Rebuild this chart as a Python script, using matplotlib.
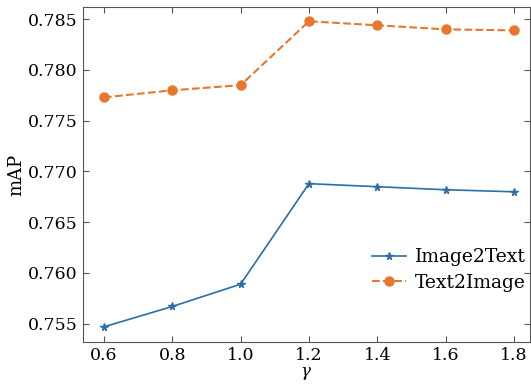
import matplotlib.pyplot as plt

gamma = [0.6, 0.8, 1.0, 1.2, 1.4, 1.6, 1.8]
image2text = [0.7547, 0.7567, 0.7589, 0.7688, 0.7685, 0.7682, 0.7680]
text2image = [0.7773, 0.7780, 0.7785, 0.7848, 0.7844, 0.7840, 0.7839]

plt.rcParams['font.family'] = 'DejaVu Serif'
plt.rcParams['mathtext.fontset'] = 'dejavuserif'

fig = plt.figure(figsize=(5.31, 3.9), dpi=100)
ax = fig.add_axes([0.156, 0.123, 0.842, 0.859])

ax.plot(gamma, image2text, color='#2a6fa8', marker='*', markersize=5.5, linewidth=1.2, label='Image2Text')
ax.plot(gamma, text2image, color='#e8772e', marker='o', markersize=6.5, linestyle='--', linewidth=1.5, label='Text2Image')

ax.set_xlim(0.538, 1.847)
ax.set_ylim(0.7532, 0.7862)
ax.set_xticks(gamma)
ax.set_yticks([0.755, 0.760, 0.765, 0.770, 0.775, 0.780, 0.785])
ax.set_yticklabels(['0.755', '0.760', '0.765', '0.770', '0.775', '0.780', '0.785'])
ax.tick_params(direction='in', top=True, right=True, labelsize=12.5, length=4, color='#555555')
for s in ax.spines.values():
    s.set_color('#555555')
ax.set_xlabel(r'$\gamma$', fontsize=12, labelpad=1)
ax.set_ylabel('mAP', fontsize=13, labelpad=2)
ax.legend(loc='center right', bbox_to_anchor=(1.02, 0.215), frameon=False, fontsize=13.5,
          handlelength=1.8, handletextpad=0.5, labelspacing=0.4, borderpad=0.2)

plt.savefig('out.png', dpi=100)
